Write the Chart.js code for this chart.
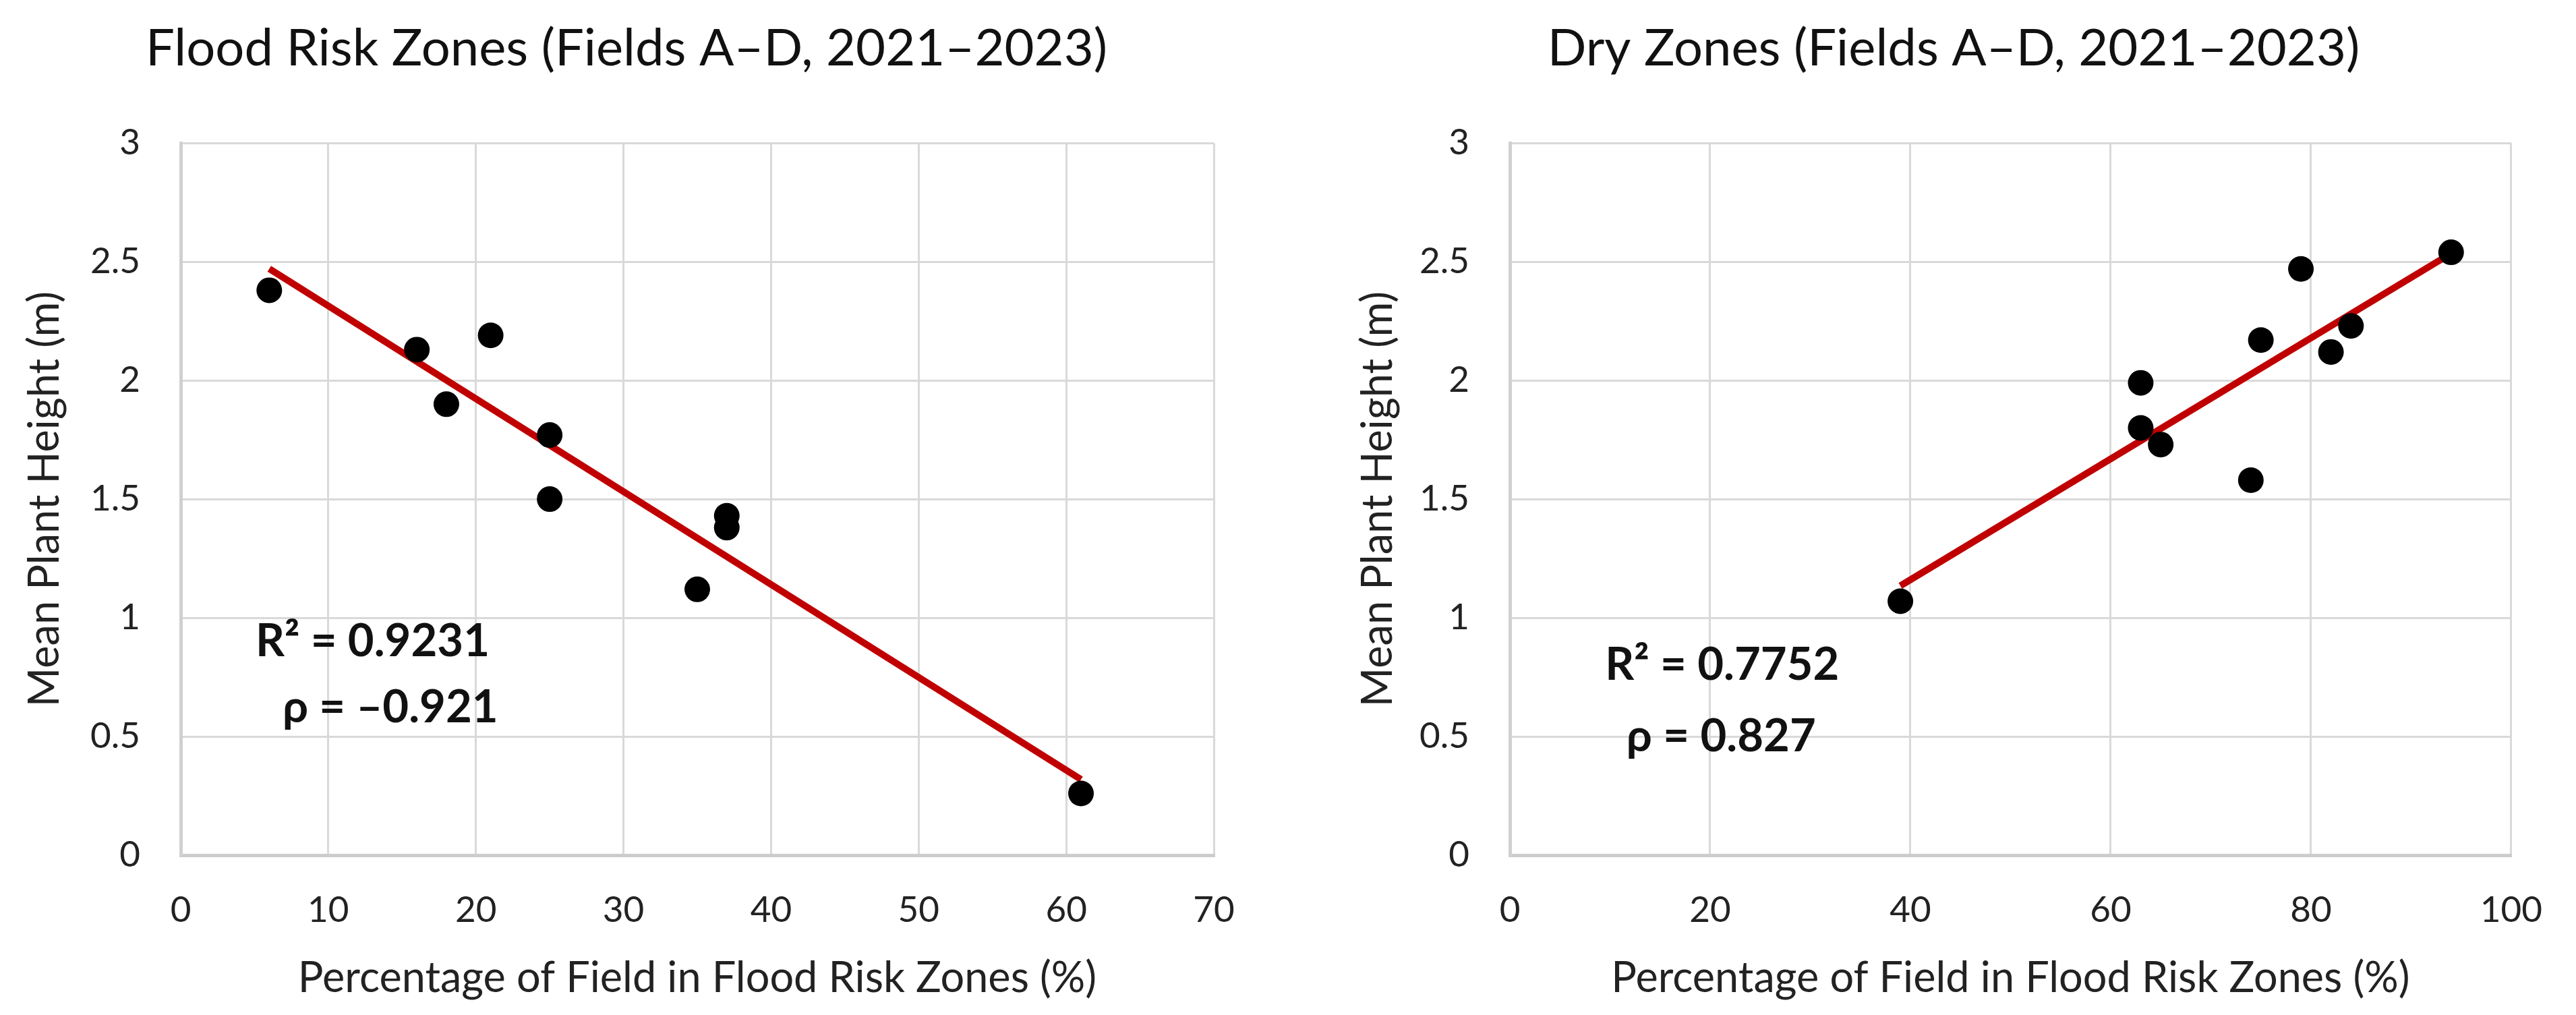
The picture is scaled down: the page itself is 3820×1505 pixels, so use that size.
<!DOCTYPE html>
<html>
<head>
<meta charset="utf-8">
<title>Mean plant height vs field zone share</title>
<script src="https://cdn.jsdelivr.net/npm/chart.js@4.4.0/dist/chart.umd.min.js"></script>
<style>
  body { margin: 0; background: #fff; }
  .wrap { display: flex; width: 3820px; height: 1505px; }
  canvas { display: block; }
</style>
</head>
<body>
<div class="wrap">
  <canvas id="floodChart" width="1910" height="1505"></canvas>
  <canvas id="dryChart" width="1910" height="1505"></canvas>
</div>
<script>
// values
var floodPct = [6, 16, 21, 18, 25, 25, 37, 37, 35, 61];
var floodHeight = [2.38, 2.13, 2.19, 1.90, 1.77, 1.50, 1.43, 1.38, 1.12, 0.26];
var floodStats = ['R\u00b2 = 0.9231', '\u03c1 = \u20130.921'];

var dryPct = [94, 79, 75, 84, 82, 63, 63, 65, 74, 39];
var dryHeight = [2.54, 2.47, 2.17, 2.23, 2.12, 1.99, 1.80, 1.73, 1.58, 1.07];
var dryStats = ['R\u00b2 = 0.7752', '\u03c1 = 0.827'];

var xTitle = 'Percentage of Field in Flood Risk Zones (%)';
var yTitle = 'Mean Plant Height (m)';

var FONT = 'Lato, "Open Sans", sans-serif';

// least squares line between the smallest and largest x
function trendLine(xs, ys) {
  var n = xs.length, mx = 0, my = 0;
  for (var i = 0; i < n; i++) { mx += xs[i]; my += ys[i]; }
  mx /= n; my /= n;
  var sxy = 0, sxx = 0;
  for (var j = 0; j < n; j++) {
    sxy += (xs[j] - mx) * (ys[j] - my);
    sxx += (xs[j] - mx) * (xs[j] - mx);
  }
  var slope = sxy / sxx, icpt = my - slope * mx;
  var lo = Math.min.apply(null, xs), hi = Math.max.apply(null, xs);
  return [{ x: lo, y: icpt + slope * lo }, { x: hi, y: icpt + slope * hi }];
}

// R² / rho text placed in data units
var statsPlugin = {
  id: 'stats',
  afterDatasetsDraw: function (chart, args, opts) {
    var ctx = chart.ctx, sx = chart.scales.x, sy = chart.scales.y;
    ctx.save();
    ctx.font = 'bold 67px ' + FONT;
    ctx.fillStyle = '#111';
    ctx.textAlign = 'center';
    ctx.textBaseline = 'middle';
    opts.lines.forEach(function (t, i) {
      ctx.fillText(t, sx.getPixelForValue(opts.at[i][0]), sy.getPixelForValue(opts.at[i][1]));
    });
    ctx.restore();
  }
};

function makeChart(id, s) {
  var pts = s.xs.map(function (v, i) { return { x: v, y: s.ys[i] }; });
  return new Chart(document.getElementById(id), {
    type: 'scatter',
    data: {
      datasets: [{
        data: pts,
        backgroundColor: '#000',
        borderColor: '#000',
        borderWidth: 0,
        pointRadius: 19,
        order: 1
      }, {
        type: 'line',
        data: trendLine(s.xs, s.ys),
        borderColor: '#c00000',
        borderWidth: 10,
        pointRadius: 0,
        fill: false,
        order: 2
      }]
    },
    options: {
      responsive: false,
      devicePixelRatio: 1,
      animation: false,
      layout: { padding: { left: s.padLeft, right: s.padRight, top: 0, bottom: 0 } },
      plugins: {
        legend: { display: false },
        tooltip: { enabled: false },
        title: {
          display: true,
          text: s.title,
          color: '#111',
          font: { family: FONT, size: 76, weight: 'normal' },
          padding: { top: 27, bottom: 94 }
        },
        stats: { lines: s.stats, at: s.statsAt }
      },
      scales: {
        x: {
          type: 'linear',
          min: 0,
          max: s.xMax,
          ticks: {
            stepSize: s.xStep,
            padding: 50,
            color: '#222',
            font: { family: FONT, size: 53 }
          },
          grid: { color: '#d9d9d9', lineWidth: 3, drawTicks: false },
          border: { color: '#cccccc', width: 5 },
          title: {
            display: true,
            text: xTitle,
            color: '#222',
            font: { family: FONT, size: 63 },
            padding: { top: 0, bottom: 17 }
          },
          afterFit: function (scale) { scale.height = 237; }
        },
        y: {
          min: 0,
          max: 3,
          ticks: {
            stepSize: 0.5,
            padding: 60,
            color: '#222',
            font: { family: FONT, size: 53 },
            callback: function (v) { return String(v); }
          },
          grid: { color: '#d9d9d9', lineWidth: 3, drawTicks: false },
          border: { color: '#d0d0d0', width: 5 },
          title: {
            display: true,
            text: yTitle,
            color: '#222',
            font: { family: FONT, size: 63 },
            padding: { top: -29, bottom: 0 }
          },
          afterFit: function (scale) { scale.width = s.yWidth; }
        }
      }
    },
    plugins: [statsPlugin]
  });
}

makeChart('floodChart', {
  title: 'Flood Risk Zones (Fields A\u2013D, 2021\u20132023)',
  xs: floodPct, ys: floodHeight,
  xMax: 70, xStep: 10,
  stats: floodStats, statsAt: [[13.0, 0.90], [14.2, 0.62]],
  padLeft: 58, padRight: 110, yWidth: 210
});

makeChart('dryChart', {
  title: 'Dry Zones (Fields A\u2013D, 2021\u20132023)',
  xs: dryPct, ys: dryHeight,
  xMax: 100, xStep: 20,
  stats: dryStats, statsAt: [[21.2, 0.80], [21.1, 0.50]],
  padLeft: 125, padRight: 61, yWidth: 204
});
</script>
</body>
</html>
